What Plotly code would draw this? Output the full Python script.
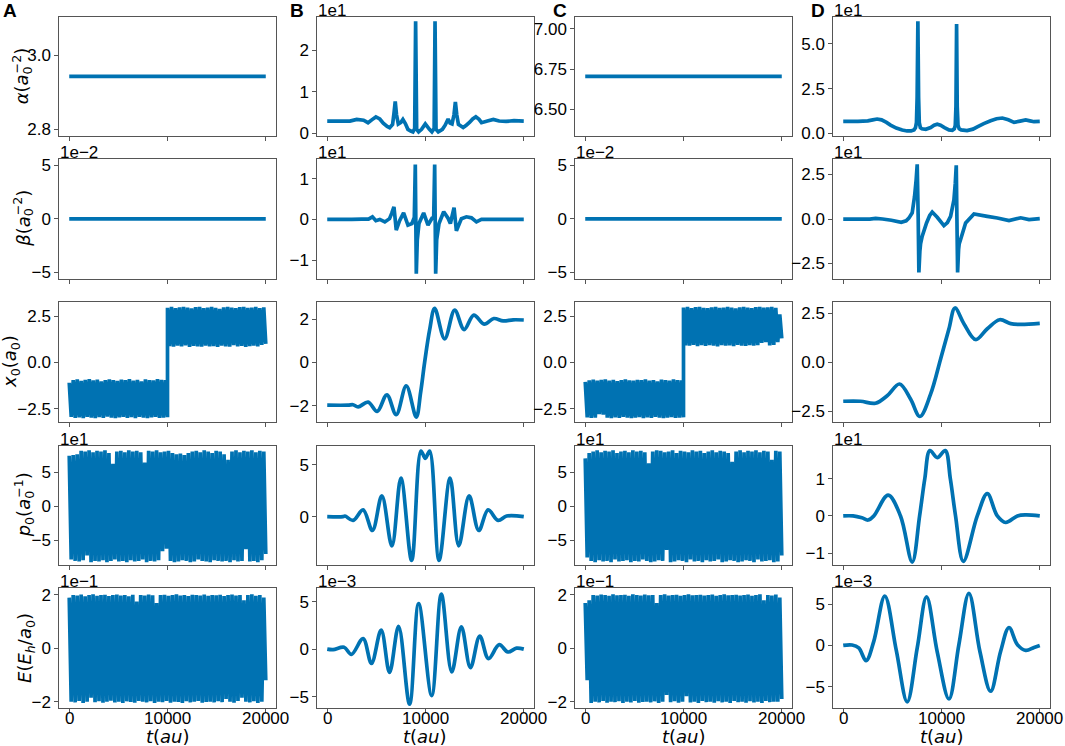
import numpy as np
import plotly.graph_objects as go

# ---------------- data ----------------
# constant panels (columns A and C, rows 1-2)
t_const = [0, 20000]
alpha_A = [2.943, 2.943]
beta_A = [0.0, 0.0]
alpha_C = [6.705, 6.705]
beta_C = [0.0, 0.0]

# column B, alpha
t_alpha_B = [0, 1700, 2300, 3000, 3700, 4150, 4600, 4950, 5350, 5700,
             6100, 6350, 6650, 6800, 6920, 7050, 7230, 7500, 7700, 7950,
             8210, 8500, 8720, 8900, 8995, 9100, 9300, 9600, 9980, 10400,
             10650, 10880, 10970, 11070, 11300, 11720, 12000, 12300, 12500, 12700,
             12900, 13040, 13180, 13350, 13600, 13830, 14150, 14500, 14800, 15120,
             15450, 15700, 16300, 16900, 17500, 18200, 19000, 20000]
alpha_B = [3.0, 3.0, 3.0, 3.4, 3.2, 2.6, 3.4, 4.0, 3.5, 2.5,
           1.7, 1.4, 2.2, 5.0, 7.7, 4.5, 2.3, 2.7, 3.4, 2.4,
           1.0, 0.6, 0.4, 1.2, 27.0, 1.0, 0.4, 1.0, 2.3, 1.0,
           0.4, 1.2, 27.0, 1.0, 0.4, 1.0, 2.0, 3.5, 2.5, 2.3,
           4.5, 7.6, 4.5, 2.2, 1.8, 1.45, 2.0, 2.7, 3.5, 4.0,
           3.4, 2.6, 3.0, 3.4, 3.0, 2.9, 3.1, 3.0]

# column B, beta
t_beta_B = [0, 2500, 3500, 4200, 4600, 4950, 5350, 5860, 6340, 6560,
            6790, 7024, 7364, 7772, 8214, 8622, 8860, 8962, 9064, 9166,
            9336, 9812, 10254, 10662, 10832, 10934, 11036, 11138, 11376, 11852,
            12294, 12532, 12906, 13144, 13654, 14164, 14674, 15184, 15694, 17564,
            20000]
beta_B = [0, 0, 0.1, 0.1, 0.65, -0.3, 0, -0.6, 0.2, 1.5,
          3.1, -2.6, -0.3, 1.6, -1.4, -1.0, 0.5, 13.5, -13.3, -5,
          -1.0, 1.6, -1.4, 0.3, 0.5, 13.5, -13.3, -5, -1.0, 1.9,
          0.3, -1.0, 2.9, -2.8, 0.2, 0.65, 0.4, -0.6, 0, 0,
          0]

# column B, x0
t_x0_B = [0, 2120, 2630, 3140, 4160, 5080, 6070, 7020, 8040, 9060, 9500, 9910,
          10420, 10930, 11950, 12970, 13930, 14910, 15970, 16950, 17900, 18920, 20000]
x0_B = [-1.98, -1.98, -1.96, -2.06, -1.84, -2.27, -1.5, -2.42, -1.09, -2.53, -1.4, 0.0,
        1.5, 2.5, 1.09, 2.42, 1.52, 2.19, 1.77, 2.03, 1.92, 1.97, 1.96]

# column B, p0
t_p0_B = [0, 1600, 1800, 2630, 3650, 4600, 5560, 6580, 7500, 8590, 9540,
          9980, 10420, 11380, 12500, 13380, 14440, 15420, 16370, 17390, 18250, 20000]
p0_B = [0, 0, 0.06, -0.36, 0.65, -1.33, 2.0, -2.8, 3.7, -4.2, 6.3,
        5.6, 6.3, -4.2, 3.7, -2.8, 2.0, -1.33, 0.65, -0.36, 0.06, 0]

# column B, E  (in units of 1e-3)
t_E_B = [0, 600, 1710, 2460, 3650, 4500, 5490, 6340, 7260, 8380, 9300,
         10630, 11610, 12670, 13650, 14570, 15520, 16410, 17500, 18380, 19260, 20000]
E_B_milli = [0, -0.05, 0.2, -0.55, 1.1, -1.5, 2.0, -2.46, 2.4, -5.8, 4.8,
             -4.9, 5.8, -2.4, 2.35, -1.95, 1.38, -1.0, 0.47, -0.3, 0.1, 0]

# column D, alpha
t_alpha_D = [0, 1500, 2500, 3000, 3450, 3900, 4400, 4810, 5400, 6000,
             6500, 6900, 7200, 7350, 7450, 7520, 7596, 7670, 7740, 7850,
             8000, 8400, 8900, 9250, 9566, 9900, 10300, 10755, 11100, 11300,
             11400, 11470, 11536, 11600, 11680, 11800, 12000, 12600, 13200, 13643,
             14300, 15001, 15600, 16190, 16800, 17379, 18000, 18568, 19000, 19417,
             20000]
alpha_D = [6.7, 6.7, 7.0, 7.6, 8.05, 7.6, 6.2, 4.7, 3.0, 1.9,
           1.4, 1.4, 2.0, 3.2, 6, 20, 62.4, 20, 6, 3.2,
           2.6, 2.3, 3.3, 4.6, 5.2, 4.6, 3.3, 2.0, 1.8, 2.6,
           4.5, 15, 61, 15, 4.5, 2.6, 2.0, 1.6, 2.4, 3.7,
           5.5, 7.1, 8.2, 8.6, 7.6, 6.2, 6.9, 7.5, 7.0, 6.55,
           6.7]

# column D, beta
t_beta_D = [0, 2700, 3300, 4000, 4900, 5900, 6400, 6680, 7020, 7256,
            7420, 7528, 7630, 7698, 7800, 7868, 8038, 8479, 8800, 9057,
            9566, 10246, 10600, 10925, 11264, 11400, 11502, 11570, 11638, 11740,
            11800, 11944, 12454, 13303, 14662, 15681, 16869, 18058, 18907, 20000]
beta_D = [0, 0, 0.4, 0, -0.7, -1.85, -1.0, 0.5, 3.5, 12.6,
          22, 30.7, 0, -30, -18, -14, -9.6, -2.2, 2.0, 3.9,
          1.0, -3.7, -2.0, 1.5, 10.7, 20, 30.2, 0, -30, -17,
          -14, -11.5, -2.2, 2.8, 1.5, 0.6, -0.9, 0.7, -0.3, 0.2]

# column D, x0
t_x0_D = [0, 1750, 3280, 4470, 5730, 6850, 7800, 8890, 9910, 10760, 11370,
          12280, 13470, 14660, 15920, 17040, 18060, 20000]
x0_D = [-1.99, -1.99, -2.09, -1.71, -1.11, -1.88, -2.77, -1.63, 0.17, 1.71, 2.77,
        1.97, 1.16, 1.71, 2.17, 1.97, 1.93, 1.98]

# column D, p0
t_p0_D = [0, 1000, 1900, 2530, 3110, 4570, 5830, 7020, 7770, 8300, 8820, 9570,
          10380, 10900, 11430, 12220, 13640, 14660, 15680, 16530, 17720, 18570, 20000]
p0_D = [0, 0, -0.5, -1.1, 0, 5.6, 0, -12.4, 0, 10, 17.6, 15.7,
        17.6, 10, 0, -12.2, 0, 6.0, 0, -1.76, 0, 0.28, 0]

# column D, E (in units of 1e-3)
t_E_D = [0, 900, 1580, 2330, 3110, 4230, 5400, 6510, 7530, 8480, 9570,
         10760, 11770, 12790, 13920, 15000, 16020, 16870, 17720, 18570, 19420, 20000]
E_D_milli = [0, 0.05, -0.3, -1.85, 0.5, 6.0, -0.6, -6.85, -0.3, 5.9, -0.8,
             -6.5, 0.1, 6.33, -0.8, -5.56, -0.7, 2.18, 0.1, -0.6, -0.24, 0]

# dense (chaotic) panels: upper / lower turning values read along the band
x0_A_left_up = [-1.1, -0.95, -0.92, -1.0, -0.94, -0.9, -0.97, -0.93, -1.02, -0.95, -0.91, -0.96, -1.0,
                -0.93, -0.95, -0.9, -0.98, -0.94, -1.03, -0.92, -0.95, -0.97, -0.9, -0.94, -0.96]
x0_A_left_lo = [-2.95, -3.0, -2.97, -3.02, -2.94, -2.99, -3.01, -2.96, -3.0, -2.93, -2.98, -3.02, -2.97,
                -2.95, -3.0, -2.96, -3.01, -2.94, -2.99, -3.02, -2.97, -2.95, -3.0, -2.98, -2.96]
x0_A_right_up = [2.95, 3.0, 2.93, 2.98, 3.01, 2.96, 2.92, 2.99, 3.0, 2.94, 2.97, 3.01, 2.95,
                 2.9, 2.98, 3.0, 2.96, 2.93, 2.99, 3.01, 2.95, 2.97, 3.0, 2.94, 2.98]
x0_A_right_lo = [0.88, 0.85, 0.9, 0.86, 0.92, 0.84, 0.89, 0.87, 0.85, 0.91, 0.86, 0.88, 0.84,
                 0.9, 0.87, 0.85, 0.93, 0.86, 0.89, 0.84, 0.88, 0.9, 0.86, 0.95, 1.0]

x0_C_left_up = [-1.05, -0.97, -0.93, -0.99, -0.95, -0.91, -0.98, -0.94, -1.01, -0.96, -0.92, -0.97, -0.99,
                -0.94, -0.96, -0.91, -0.98, -0.95, -1.02, -0.93, -0.96, -0.98, -0.92, -0.95, -0.97]
x0_C_left_lo = [-2.97, -3.0, -2.98, -2.8, -2.82, -2.98, -3.01, -2.97, -3.0, -2.95, -2.99, -3.02, -2.98,
                -2.96, -3.01, -2.97, -3.0, -2.95, -2.99, -3.02, -2.98, -2.96, -3.0, -2.99, -2.97]
x0_C_right_up = [2.97, 3.0, 2.94, 2.99, 3.01, 2.95, 2.93, 2.98, 3.0, 2.95, 2.97, 3.0, 2.96,
                 2.92, 2.98, 3.01, 2.97, 2.94, 2.99, 3.0, 2.96, 2.98, 3.0, 2.95, 2.6]
x0_C_right_lo = [0.92, 0.9, 0.95, 0.88, 0.93, 0.89, 0.94, 0.9, 0.87, 0.93, 0.9, 0.92, 0.88,
                 0.95, 0.91, 0.89, 0.94, 0.9, 0.93, 1.05, 1.1, 0.92, 0.95, 1.1, 1.3]

p0_A_up = [74, 75, 76, 81, 80, 82, 79, 81, 80, 82, 78, 62, 80, 81, 79, 82, 80, 81, 79, 64,
           81, 80, 82, 79, 80, 81, 78, 76, 77, 75, 78, 80, 81, 79, 82, 80, 78, 81, 80, 76,
           68, 80, 82, 79, 81, 80, 82, 79, 81, 80]
p0_A_lo = [-78, -80, -81, -79, -72, -82, -80, -81, -79, -82, -80, -78, -81, -80, -82, -79, -81, -80, -78, -82,
           -80, -81, -79, -66, -62, -80, -82, -81, -79, -80, -82, -81, -78, -80, -81, -82, -79, -80, -81, -80,
           -82, -79, -81, -80, -63, -81, -80, -82, -79, -70]
p0_C_up = [70, 78, 80, 82, 79, 81, 80, 82, 78, 80, 81, 79, 82, 80, 81, 79, 63, 80, 82, 81,
           79, 80, 82, 78, 81, 80, 79, 82, 80, 81, 78, 80, 82, 79, 81, 80, 78, 65, 80, 82,
           79, 81, 80, 82, 79, 81, 80, 68, 81, 80]
p0_C_lo = [-75, -80, -82, -79, -81, -80, -82, -78, -81, -80, -79, -82, -80, -81, -78, -80, -82, -81, -79, -80,
           -64, -82, -81, -79, -80, -82, -78, -81, -80, -82, -79, -81, -80, -78, -82, -81, -79, -80, -82, -81,
           -79, -80, -82, -78, -81, -80, -79, -82, -81, -72]

E_A_up = [0.19, 0.2, 0.198, 0.202, 0.195, 0.2, 0.203, 0.197, 0.2, 0.201, 0.196, 0.2, 0.202, 0.198, 0.2,
          0.195, 0.201, 0.175, 0.2, 0.198, 0.202, 0.199, 0.17, 0.2, 0.201, 0.197, 0.2, 0.203, 0.198, 0.2,
          0.196, 0.201, 0.2, 0.198, 0.202, 0.197, 0.2, 0.199, 0.201, 0.196, 0.2, 0.202, 0.198, 0.2, 0.18,
          0.2, 0.203, 0.197, 0.2, 0.19]
E_A_lo = [-0.2, -0.203, -0.198, -0.205, -0.2, -0.185, -0.202, -0.199, -0.204, -0.2, -0.197, -0.203, -0.2,
          -0.205, -0.199, -0.201, -0.204, -0.198, -0.2, -0.203, -0.199, -0.205, -0.2, -0.202, -0.198, -0.204,
          -0.2, -0.201, -0.205, -0.199, -0.203, -0.2, -0.198, -0.204, -0.201, -0.2, -0.203, -0.199, -0.202,
          -0.19, -0.2, -0.204, -0.198, -0.185, -0.2, -0.203, -0.199, -0.205, -0.2, -0.12]
E_C_up = [0.17, 0.18, 0.2, 0.198, 0.202, 0.2, 0.197, 0.203, 0.199, 0.2, 0.201, 0.197, 0.203, 0.2, 0.198,
          0.202, 0.199, 0.2, 0.17, 0.2, 0.203, 0.198, 0.2, 0.201, 0.197, 0.2, 0.203, 0.199, 0.2, 0.201,
          0.198, 0.2, 0.202, 0.197, 0.2, 0.203, 0.199, 0.2, 0.201, 0.198, 0.2, 0.202, 0.197, 0.2, 0.203,
          0.18, 0.2, 0.198, 0.202, 0.19]
E_C_lo = [-0.12, -0.205, -0.2, -0.203, -0.198, -0.204, -0.2, -0.202, -0.199, -0.205, -0.2, -0.203, -0.198,
          -0.204, -0.201, -0.2, -0.203, -0.199, -0.205, -0.2, -0.175, -0.202, -0.199, -0.204, -0.2, -0.18,
          -0.203, -0.2, -0.205, -0.198, -0.202, -0.2, -0.204, -0.199, -0.203, -0.2, -0.205, -0.198, -0.202,
          -0.2, -0.204, -0.199, -0.203, -0.2, -0.205, -0.198, -0.202, -0.2, -0.2, -0.19]

# tick labels
x_tickvals = [0, 10000, 20000]
x_ticktext = ["0", "10000", "20000"]
panel_letters = ["A", "B", "C", "D"]
SUBSUP = '<sub><span style="letter-spacing:-7px">0</span></sub><sup>{}</sup>'
y_titles = ["<i>α</i>(<i>a</i>" + SUBSUP.format("−2") + ")",
            "<i>β</i>(<i>a</i>" + SUBSUP.format("−2") + ")",
            "<i>x</i><sub>0</sub>(<i>a</i><sub>0</sub>)",
            "<i>p</i><sub>0</sub>(<i>a</i>" + SUBSUP.format("−1") + ")",
            "<i>E</i>(<i>E</i><sub><i>h</i></sub>/<i>a</i><sub>0</sub>)"]


def zigzag(up, lo):
    out = []
    for u, l in zip(up, lo):
        out += [u, l]
    return out


x0_A = zigzag(x0_A_left_up, x0_A_left_lo) + zigzag(x0_A_right_up, x0_A_right_lo)
x0_C = zigzag(x0_C_left_up, x0_C_left_lo) + zigzag(x0_C_right_up, x0_C_right_lo)
t_x0_dense = list(np.linspace(0, 10000, 50)) + list(np.linspace(10000, 20000, 50))
t_dense = list(np.linspace(0, 20000, 100))
p0_A = zigzag(p0_A_up, p0_A_lo)
p0_C = zigzag(p0_C_up, p0_C_lo)
E_A = zigzag(E_A_up, E_A_lo)
E_C = zigzag(E_C_up, E_C_lo)
E_B = list(np.array(E_B_milli) * 1e-3)
E_D = list(np.array(E_D_milli) * 1e-3)

# ---------------- panel specs ----------------
M = "−"
panels = {
    (0, 0): (t_const, alpha_A, "linear", [2.781, 3.105], [2.8, 3.0], ["2.8", "3.0"], None),
    (0, 1): (t_alpha_B, alpha_B, "linear", [-0.6, 28.1], [0, 10, 20], ["0", "1", "2"], "1e1"),
    (0, 2): (t_const, alpha_C, "linear", [6.336, 7.074], [6.5, 6.75, 7.0], ["6.50", "6.75", "7.00"], None),
    (0, 3): (t_alpha_D, alpha_D, "linear", [-1.4, 65.0], [0, 25, 50], ["0.0", "2.5", "5.0"], "1e1"),
    (1, 0): (t_const, beta_A, "linear", [-0.0556, 0.0556], [-0.05, 0, 0.05], [M + "5", "0", "5"], "1e−2"),
    (1, 1): (t_beta_B, beta_B, "linear", [-14.5, 14.8], [-10, 0, 10], [M + "1", "0", "1"], "1e1"),
    (1, 2): (t_const, beta_C, "linear", [-0.0556, 0.0556], [-0.05, 0, 0.05], [M + "5", "0", "5"], "1e−2"),
    (1, 3): (t_beta_D, beta_D, "linear", [-33.4, 33.6], [-25, 0, 25], [M + "2.5", "0.0", "2.5"], "1e1"),
    (2, 0): (t_x0_dense, x0_A, "linear", [-3.2, 3.25], [-2.5, 0, 2.5], [M + "2.5", "0.0", "2.5"], None),
    (2, 1): (t_x0_B, x0_B, "spline", [-2.74, 2.78], [-2, 0, 2], [M + "2", "0", "2"], None),
    (2, 2): (t_x0_dense, x0_C, "linear", [-3.2, 3.25], [-2.5, 0, 2.5], [M + "2.5", "0.0", "2.5"], None),
    (2, 3): (t_x0_D, x0_D, "spline", [-3.03, 3.06], [-2.5, 0, 2.5], [M + "2.5", "0.0", "2.5"], None),
    (3, 0): (t_dense, p0_A, "linear", [-86, 88.6], [-50, 0, 50], [M + "5", "0", "5"], "1e1"),
    (3, 1): (t_p0_B, p0_B, "spline", [-4.64, 6.81], [0, 5], ["0", "5"], None),
    (3, 2): (t_dense, p0_C, "linear", [-86, 88.6], [-50, 0, 50], [M + "5", "0", "5"], "1e1"),
    (3, 3): (t_p0_D, p0_D, "spline", [-13.2, 18.9], [-10, 0, 10], [M + "1", "0", "1"], "1e1"),
    (4, 0): (t_dense, E_A, "linear", [-0.2225, 0.225], [-0.2, 0, 0.2], [M + "2", "0", "2"], "1e−1"),
    (4, 1): (t_E_B, E_B, "spline", [-6.16e-3, 6.41e-3], [-0.005, 0, 0.005], [M + "5", "0", "5"], "1e−3"),
    (4, 2): (t_dense, E_C, "linear", [-0.2225, 0.225], [-0.2, 0, 0.2], [M + "2", "0", "2"], "1e−1"),
    (4, 3): (t_E_D, E_D, "spline", [-7.55e-3, 6.94e-3], [-0.005, 0, 0.005], [M + "5", "0", "5"], "1e−3"),
}

# ---------------- layout geometry (pixels) ----------------
FW, FH = 1065, 746
col_left = [59.4, 317.4, 575.4, 833.4]
box_w = 216.2
row_top = [16.7, 159.2, 302.3, 445.7, 588.3]
box_h = 119.3
ylabel_x = [22, 23, 11, 24, 26]
letter_x = [10, 297, 559.5, 817.5]

COLOR = "#0072B2"
FRAME = "#555555"
TICKFONT = dict(family="Liberation Sans, Arial, sans-serif", size=17, color="black")
LABELFONT = dict(family="DejaVu Sans, sans-serif", size=18, color="black")

fig = go.Figure()
layout = dict(width=FW, height=FH, margin=dict(l=0, r=0, t=0, b=0),
              paper_bgcolor="white", plot_bgcolor="white", showlegend=False,
              template="none", annotations=[])

for (r, c), (tt, yy, shape, yr, tv, ttxt, mult) in panels.items():
    k = r * 4 + c + 1
    xa = "x" if k == 1 else f"x{k}"
    ya = "y" if k == 1 else f"y{k}"
    line = dict(color=COLOR, width=3.7, shape=shape, simplify=False)
    if shape == "spline":
        line["smoothing"] = 1.0
    fig.add_trace(go.Scatter(x=tt, y=yy, mode="lines", line=line, xaxis=xa, yaxis=ya,
                             hoverinfo="skip"))
    x0p = col_left[c] / FW
    x1p = (col_left[c] + box_w) / FW
    y1p = 1 - row_top[r] / FH
    y0p = 1 - (row_top[r] + box_h) / FH
    layout["xaxis" if k == 1 else f"xaxis{k}"] = dict(
        domain=[x0p, x1p], anchor=ya, range=[-1000, 21000],
        tickvals=x_tickvals, showticklabels=False,
        ticks="outside", ticklen=4, tickwidth=1, tickcolor=FRAME,
        showline=True, linecolor=FRAME, linewidth=1.2, mirror=True,
        showgrid=False, zeroline=False, tickfont=TICKFONT, automargin=False)
    layout["yaxis" if k == 1 else f"yaxis{k}"] = dict(
        domain=[y0p, y1p], anchor=xa, range=yr,
        tickvals=tv, ticktext=ttxt,
        ticks="outside", ticklen=4, tickwidth=1, tickcolor=FRAME,
        showline=True, linecolor=FRAME, linewidth=1.2, mirror=True,
        showgrid=False, zeroline=False, tickfont=TICKFONT, automargin=False)
    if mult:
        layout["annotations"].append(dict(
            text=mult, xref="paper", yref="paper", x=x0p, y=y1p,
            xanchor="left", yanchor="bottom", showarrow=False,
            font=TICKFONT, borderpad=0, yshift=-4))
    if r == 4:
        for tvx, ttx in zip(x_tickvals, x_ticktext):
            layout["annotations"].append(dict(
                text=ttx, xref=xa, yref="paper", x=tvx, y=1 - 718.5 / FH,
                xanchor="center", yanchor="middle", showarrow=False,
                font=TICKFONT, borderpad=0))
        layout["annotations"].append(dict(
            text="<i>t</i>(<i>au</i>)", xref="paper", yref="paper",
            x=(x0p + x1p) / 2, y=1 - 736 / FH, xanchor="center", yanchor="middle",
            showarrow=False, font=LABELFONT, borderpad=0))
    if c == 0:
        layout["annotations"].append(dict(
            text=y_titles[r], xref="paper", yref="paper",
            x=ylabel_x[r] / FW, y=(y0p + y1p) / 2, xanchor="center", yanchor="middle",
            textangle=-90, showarrow=False, font=LABELFONT, borderpad=0))

for c in range(4):
    layout["annotations"].append(dict(
        text=f"<b>{panel_letters[c]}</b>", xref="paper", yref="paper",
        x=letter_x[c] / FW, y=1 - 10 / FH, xanchor="center", yanchor="middle",
        showarrow=False, borderpad=0,
        font=dict(family="Liberation Sans, Arial, sans-serif", size=19, color="black")))

fig.update_layout(**layout)
fig.write_html("out.html", config={"displayModeBar": False},
               post_script="document.body.style.margin='0px';")
